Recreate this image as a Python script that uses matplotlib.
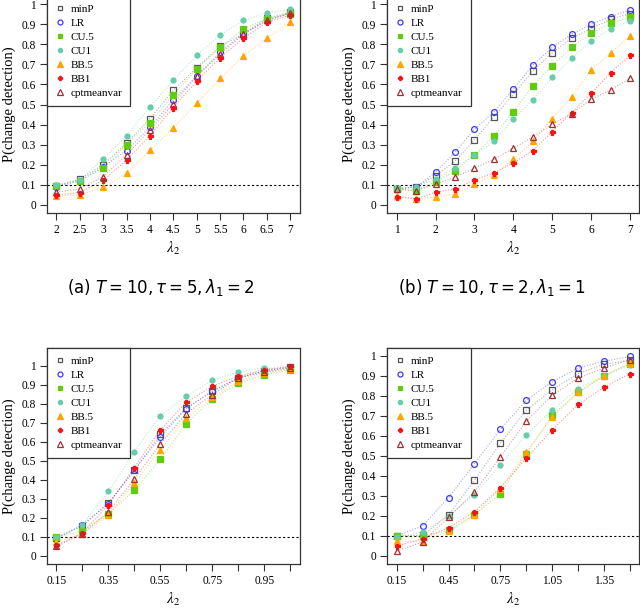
import numpy as np
import matplotlib
matplotlib.use("Agg")
import matplotlib.pyplot as plt

plt.rcParams['font.family'] = ['Liberation Serif', 'DejaVu Serif']
plt.rcParams['mathtext.fontset'] = 'stix'

methods = ["minP", "LR", "CU.5", "CU1", "BB.5", "BB1", "cptmeanvar"]
colors = ["#555555", "#3b3bf5", "#5fcc10", "#66cdaa", "#ffa500", "#ff1010", "#a03030"]
markers = ["s", "o", "s", "o", "^", "P", "^"]
filled = [False, False, True, True, True, True, False]
msizes = [3.8, 4.2, 3.8, 3.6, 4.6, 3.6, 5.0]

# (a) T=10, tau=5, lambda1=2
x_a = [2, 2.5, 3, 3.5, 4, 4.5, 5, 5.5, 6, 6.5, 7]
y_a = {
    "minP":       [0.095, 0.128, 0.201, 0.306, 0.430, 0.570, 0.684, 0.789, 0.852, 0.929, 0.958],
    "LR":         [0.090, 0.120, 0.190, 0.271, 0.387, 0.523, 0.641, 0.759, 0.855, 0.917, 0.955],
    "CU.5":       [0.095, 0.120, 0.183, 0.300, 0.410, 0.548, 0.676, 0.784, 0.877, 0.927, 0.952],
    "CU1":        [0.100, 0.125, 0.229, 0.344, 0.488, 0.620, 0.744, 0.845, 0.919, 0.957, 0.973],
    "BB.5":       [0.043, 0.050, 0.087, 0.158, 0.272, 0.384, 0.505, 0.630, 0.743, 0.830, 0.910],
    "BB1":        [0.050, 0.062, 0.123, 0.223, 0.345, 0.485, 0.616, 0.733, 0.830, 0.909, 0.945],
    "cptmeanvar": [0.065, 0.080, 0.141, 0.249, 0.374, 0.503, 0.641, 0.752, 0.850, 0.919, 0.955],
}

# (b) T=10, tau=2, lambda1=1
x_b = [1, 1.5, 2, 2.5, 3, 3.5, 4, 4.5, 5, 5.5, 6, 6.5, 7]
y_b = {
    "minP":       [0.080, 0.090, 0.146, 0.218, 0.324, 0.439, 0.550, 0.668, 0.756, 0.831, 0.877, 0.924, 0.952],
    "LR":         [0.080, 0.090, 0.163, 0.262, 0.377, 0.463, 0.576, 0.696, 0.784, 0.850, 0.900, 0.937, 0.970],
    "CU.5":       [0.080, 0.070, 0.116, 0.170, 0.249, 0.342, 0.465, 0.593, 0.693, 0.784, 0.854, 0.904, 0.935],
    "CU1":        [0.085, 0.090, 0.130, 0.186, 0.249, 0.316, 0.427, 0.522, 0.635, 0.731, 0.816, 0.875, 0.914],
    "BB.5":       [0.045, 0.030, 0.040, 0.053, 0.103, 0.150, 0.228, 0.316, 0.430, 0.537, 0.671, 0.756, 0.840],
    "BB1":        [0.040, 0.030, 0.063, 0.081, 0.125, 0.160, 0.209, 0.271, 0.365, 0.460, 0.555, 0.659, 0.744],
    "cptmeanvar": [0.080, 0.070, 0.103, 0.138, 0.183, 0.228, 0.282, 0.339, 0.402, 0.455, 0.525, 0.573, 0.630],
}

# (c)
x_c = [0.15, 0.25, 0.35, 0.45, 0.55, 0.65, 0.75, 0.85, 0.95, 1.05]
y_c = {
    "minP":       [0.096, 0.157, 0.278, 0.450, 0.638, 0.777, 0.864, 0.934, 0.972, 0.990],
    "LR":         [0.090, 0.163, 0.275, 0.452, 0.624, 0.774, 0.866, 0.936, 0.972, 0.993],
    "CU.5":       [0.100, 0.130, 0.223, 0.344, 0.508, 0.694, 0.824, 0.906, 0.951, 0.977],
    "CU1":        [0.100, 0.165, 0.339, 0.548, 0.737, 0.840, 0.922, 0.967, 0.988, 0.985],
    "BB.5":       [0.075, 0.113, 0.216, 0.383, 0.558, 0.722, 0.833, 0.917, 0.962, 0.980],
    "BB1":        [0.056, 0.122, 0.268, 0.464, 0.663, 0.807, 0.892, 0.943, 0.979, 0.995],
    "cptmeanvar": [0.050, 0.117, 0.231, 0.403, 0.588, 0.748, 0.847, 0.934, 0.965, 0.986],
}

# (d)
x_d = [0.15, 0.30, 0.45, 0.60, 0.75, 0.90, 1.05, 1.20, 1.35, 1.50]
y_d = {
    "minP":       [0.100, 0.103, 0.206, 0.378, 0.564, 0.728, 0.831, 0.912, 0.959, 0.978],
    "LR":         [0.100, 0.151, 0.292, 0.461, 0.633, 0.779, 0.871, 0.940, 0.973, 0.998],
    "CU.5":       [0.100, 0.100, 0.128, 0.204, 0.312, 0.512, 0.703, 0.818, 0.900, 0.962],
    "CU1":        [0.095, 0.120, 0.202, 0.307, 0.454, 0.607, 0.730, 0.837, 0.899, 0.957],
    "BB.5":       [0.075, 0.071, 0.124, 0.204, 0.337, 0.522, 0.693, 0.818, 0.902, 0.967],
    "BB1":        [0.050, 0.086, 0.141, 0.221, 0.342, 0.489, 0.630, 0.758, 0.844, 0.912],
    "cptmeanvar": [0.025, 0.070, 0.194, 0.320, 0.496, 0.673, 0.804, 0.889, 0.940, 0.982],
}

panels = [
    (x_a, y_a, x_a, [str(v) for v in x_a], (0, 1), r"(a) $T = 10, \tau = 5, \lambda_1 = 2$"),
    (x_b, y_b, list(range(1, 8)), [str(v) for v in range(1, 8)], (0, 1), r"(b) $T = 10, \tau = 2, \lambda_1 = 1$"),
    (x_c, y_c, x_c, ["0.15", "", "0.35", "", "0.55", "", "0.75", "", "0.95", ""], (0, 1.05), None),
    (x_d, y_d, x_d, ["0.15", "", "0.45", "", "0.75", "", "1.05", "", "1.35", ""], (0, 1), None),
]

W, H = 640, 609
fig = plt.figure(figsize=(6.4, 6.09), dpi=100)
# axes boxes in pixels: left, top, right, bottom
boxes = [(47, -4, 299.6, 213), (387.4, -4, 639.3, 213),
         (47, 348, 299.6, 564), (387.4, 348, 639.3, 564)]
cap_x = [161, 492, None, None]

for (xs, ys, xt, xtl, ylim, cap), (l, t, r, b), cx in zip(panels, boxes, cap_x):
    ax = fig.add_axes([l / W, (H - b) / H, (r - l) / W, (b - t) / H])
    xr = max(xs) - min(xs)
    yr = ylim[1] - ylim[0]
    ax.set_xlim(min(xs) - 0.04 * xr, max(xs) + 0.04 * xr)
    ax.set_ylim(ylim[0] - 0.04 * yr, ylim[1] + 0.04 * yr)
    ax.axhline(0.1, color="black", lw=0.8, ls=(0, (2, 2)), zorder=1)
    for m, c, mk, f, ms in zip(methods, colors, markers, filled, msizes):
        ax.plot(xs, ys[m], color=c, lw=0.8, ls=(0, (1, 1.5)), alpha=0.45, zorder=2)
        ax.plot(xs, ys[m], ls="none", marker=mk, ms=ms, color=c,
                mfc=c if f else "none", mec=c, mew=0.9, label=m, zorder=3)
    ax.set_xticks(xt)
    ax.set_xticklabels(xtl)
    ax.set_yticks(np.arange(0, 1.01, 0.1))
    ax.set_yticklabels(["0"] + ["%.1f" % v for v in np.arange(0.1, 0.95, 0.1)] + ["1"])
    ax.tick_params(direction="out", length=5, width=0.8, labelsize=8.3, colors="#333333",
                   labelcolor="black", pad=3)
    for s in ax.spines.values():
        s.set_color("#333333")
        s.set_linewidth(0.9)
    ax.set_ylabel("P(change detection)", fontsize=10.5, labelpad=4)
    ax.set_xlabel(r"$\lambda_2$", fontsize=11, labelpad=3)
    leg = ax.legend(loc="upper left", borderaxespad=0, fancybox=False, fontsize=8,
                    handlelength=0.8, handletextpad=0.55, labelspacing=0.38,
                    borderpad=0.75, framealpha=1, markerscale=0.85)
    leg.get_frame().set_edgecolor("#333333")
    leg.get_frame().set_linewidth(0.9)
    if cap:
        fig.text(cx / W, 1 - 288 / H, cap, ha="center", va="center",
                 fontsize=12, family="DejaVu Sans", math_fontfamily="dejavusans")

fig.savefig("out.png", dpi=100)
